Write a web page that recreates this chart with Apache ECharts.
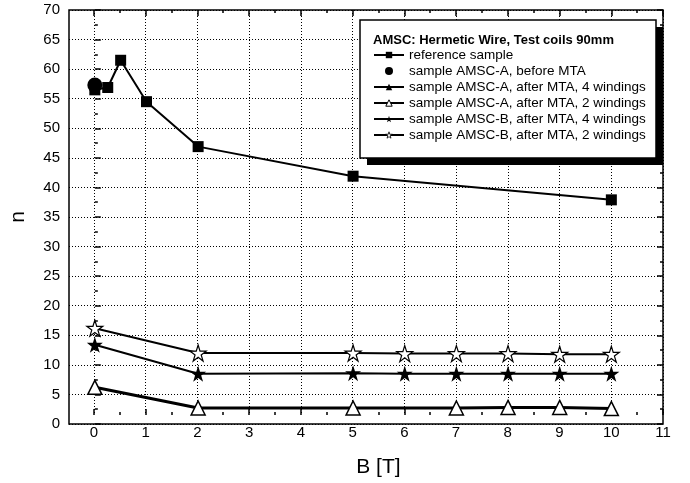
<!DOCTYPE html>
<html><head><meta charset="utf-8">
<script src="https://cdn.jsdelivr.net/npm/echarts@6/dist/echarts.min.js"></script>
<style>html,body{margin:0;padding:0;background:#fff}#c{width:690px;height:483px}</style>
</head><body><div id="c"></div>
<script>
// ---- data ----
var refB = [0, 0.25, 0.5, 1, 2, 5, 10];
var refN = [56.5, 56.9, 61.5, 54.5, 46.9, 41.9, 37.9];
var aBeforeB = [0];
var aBeforeN = [57.3];
var a4B = [];
var a4N = [];
var a2B = [0, 2, 5, 7, 8, 9, 10];
var a2N = [6.2, 2.7, 2.7, 2.7, 2.8, 2.8, 2.6];
var b4B = [0, 2, 5, 6, 7, 8, 9, 10];
var b4N = [13.4, 8.5, 8.6, 8.5, 8.5, 8.5, 8.5, 8.5];
var b2B = [0, 2, 5, 6, 7, 8, 9, 10];
var b2N = [16.2, 12.0, 12.0, 11.9, 11.9, 11.9, 11.8, 11.8];
var names = ['reference sample','sample AMSC-A, before MTA','sample AMSC-A, after MTA, 4 windings',
  'sample AMSC-A, after MTA, 2 windings','sample AMSC-B, after MTA, 4 windings','sample AMSC-B, after MTA, 2 windings'];
var legendTitle = 'AMSC: Hermetic Wire, Test coils 90mm';
var xName = 'B [T]';
var yName = 'n';

function pairs(xs, ys){ return xs.map(function(x,i){ return [x, ys[i]]; }); }

var FONT = '"Liberation Sans", Arial, sans-serif';
var STAR_A = 'path://M50,0 L61.2,34.5 L97.6,34.5 L68.2,55.9 L79.4,90.5 L50,69.1 L20.6,90.5 L31.8,55.9 L2.4,34.5 L38.8,34.5 Z';
var STAR_B = 'path://M50 0L61.2 34.5L97.6 34.5L68.2 55.9L79.4 90.5L50 69.1L20.6 90.5L31.8 55.9L2.4 34.5L38.8 34.5Z';
var L = 68, R = 663, T = 10, B = 424;
var unit = (R - L) / 11.5;

var chart = echarts.init(document.getElementById('c'), null, {renderer:'canvas'});
var dotted = {show:true, lineStyle:{color:'#000', width:1, type:[1,2]}};
var tickStyle = {color:'#000', width:1.5};
var openStyle = {color:'#fff', borderColor:'#000', borderWidth:1.2};
chart.setOption({
  animation:false,
  textStyle:{fontFamily:FONT},
  title:{text:legendTitle, left:373, top:34, padding:0, z:12,
    textStyle:{fontSize:13, fontWeight:'bold', color:'#000', fontFamily:FONT}},
  graphic:[
    {type:'rect', z:8, shape:{x:367, y:27, width:296, height:138}, style:{fill:'#000'}},
    {type:'rect', z:9, shape:{x:360, y:20, width:296, height:138}, style:{fill:'#fff', stroke:'#000', lineWidth:1.5}}
  ],
  legend:{orient:'vertical', left:373, top:48, padding:0, itemGap:2, itemWidth:30, itemHeight:8, z:12,
    data:[
      {name:names[0]},
      {name:names[1]},
      {name:names[2]},
      {name:names[3], itemStyle:{color:'#fff', borderColor:'#000', borderWidth:1}},
      {name:names[4], itemStyle:{color:'#000'}},
      {name:names[5], itemStyle:{color:'#fff', borderColor:'#000', borderWidth:0.8}}
    ],
    textStyle:{fontSize:13.5, lineHeight:14, color:'#000', fontFamily:FONT}},
  grid:[
    {left:L, top:T, width:R-L, height:B-T, show:true, borderColor:'#000', borderWidth:1.5, backgroundColor:'transparent'},
    {left:L+0.5*unit, top:T, width:R-L-0.5*unit, height:B-T, show:false}
  ],
  xAxis:[
    {gridIndex:0, type:'value', min:-0.5, max:11, show:false},
    {gridIndex:1, type:'value', min:0, max:11, interval:1, position:'bottom',
      name:xName, nameLocation:'middle', nameGap:42, nameTextStyle:{fontSize:21, color:'#000', fontFamily:FONT},
      axisLine:{show:false}, axisTick:{show:true, inside:true, length:6, lineStyle:tickStyle},
      minorTick:{show:true, splitNumber:2, length:3, lineStyle:tickStyle},
      axisLabel:{fontSize:15, color:'#000', margin:10, fontFamily:FONT, showMinLabel:true, showMaxLabel:true},
      splitLine:dotted},
    {gridIndex:1, type:'value', min:0, max:11, interval:1, position:'top',
      axisLine:{show:false}, axisTick:{show:true, inside:true, length:6, lineStyle:tickStyle},
      minorTick:{show:true, splitNumber:2, length:3, lineStyle:tickStyle},
      axisLabel:{show:false}, splitLine:{show:false}}
  ],
  yAxis:[
    {gridIndex:0, type:'value', min:0, max:70, interval:5, position:'left',
      name:yName, nameLocation:'middle', nameGap:40, nameRotate:90, nameTextStyle:{fontSize:21, color:'#000', fontFamily:FONT},
      axisLine:{show:false}, axisTick:{show:true, inside:true, length:6, lineStyle:tickStyle},
      minorTick:{show:true, splitNumber:2, length:3, lineStyle:tickStyle},
      axisLabel:{fontSize:15, color:'#000', margin:9, fontFamily:FONT},
      splitLine:dotted},
    {gridIndex:0, type:'value', min:0, max:70, interval:5, position:'right',
      axisLine:{show:false}, axisTick:{show:true, inside:true, length:6, lineStyle:tickStyle},
      minorTick:{show:true, splitNumber:2, length:3, lineStyle:tickStyle},
      axisLabel:{show:false}, splitLine:{show:false}},
    {gridIndex:1, type:'value', min:0, max:70, show:false}
  ],
  series:[
    {name:names[0], type:'line', xAxisIndex:0, yAxisIndex:0, data:pairs(refB, refN),
      symbol:'rect', symbolSize:11, lineStyle:{color:'#000', width:2}, itemStyle:{color:'#000'}, z:3},
    {name:names[1], type:'scatter', xAxisIndex:0, yAxisIndex:0, data:pairs(aBeforeB, aBeforeN),
      symbol:'circle', symbolSize:15, itemStyle:{color:'#000', opacity:1}, z:4},
    {name:names[2], type:'line', xAxisIndex:0, yAxisIndex:0, data:pairs(a4B, a4N),
      symbol:'triangle', symbolSize:12, lineStyle:{color:'#000', width:2}, itemStyle:{color:'#000'}},
    {name:names[3], type:'line', xAxisIndex:0, yAxisIndex:0, data:pairs(a2B, a2N),
      symbol:'triangle', symbolSize:14, showAllSymbol:true, lineStyle:{color:'#000', width:3},
      itemStyle:{color:'#fff', borderColor:'#000', borderWidth:1.5}},
    {name:names[4], type:'line', xAxisIndex:0, yAxisIndex:0, data:pairs(b4B, b4N),
      symbol:STAR_A, symbolSize:16, showAllSymbol:true, lineStyle:{color:'#000', width:2}, itemStyle:{color:'#000'}},
    {name:names[5], type:'line', xAxisIndex:0, yAxisIndex:0, data:pairs(b2B, b2N),
      symbol:STAR_B, symbolSize:16, showAllSymbol:true, lineStyle:{color:'#000', width:2},
      itemStyle:openStyle}
  ]
});
</script></body></html>
